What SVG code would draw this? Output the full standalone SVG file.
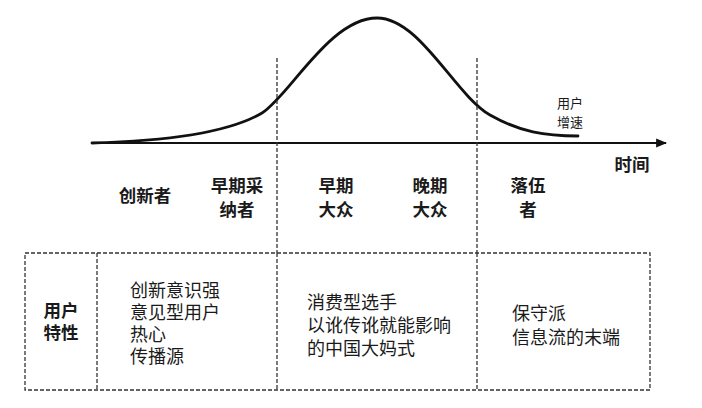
<svg xmlns="http://www.w3.org/2000/svg" width="702" height="408" viewBox="0 0 702 408">
<defs>
<marker id="arr" viewBox="0 0 10 10" refX="9" refY="5" markerWidth="5" markerHeight="5" markerUnits="strokeWidth" orient="auto">
<path d="M0,1 L10,5 L0,9 Z" fill="#111"/>
</marker>
<style>
text{font-family:"Noto Sans CJK SC","Noto Sans",sans-serif;fill:#1a1a1a}
.lb{font-size:17.5px;font-weight:bold}
.bd{font-size:18px}
.sm{font-size:13px}
.dash{stroke:#333;stroke-width:1.3;stroke-dasharray:4 2;fill:none}
</style>
</defs>
<rect width="702" height="408" fill="#fff"/>
<g id="connectors">
<line x1="92" y1="143" x2="666" y2="143" stroke="#111" stroke-width="2.2" marker-end="url(#arr)"/>
<path d="M92,143 C170,141 230,132 262,113 C290,95 330,18 377,18 C420,18 455,95 490,115 C520,132 545,136 578,136" fill="none" stroke="#111" stroke-width="2.8" stroke-linecap="round"/>
<line class="dash" x1="277" y1="58" x2="277" y2="253"/>
<line class="dash" x1="477" y1="58" x2="477" y2="253"/>
</g>
<g id="axis-labels">
<text class="sm" x="557" y="108">用户</text>
<text class="sm" x="557" y="127">增速</text>
<text class="lb" x="632" y="171" text-anchor="middle">时间</text>
</g>
<g id="stage-innovators"><text class="lb" x="145" y="202" text-anchor="middle">创新者</text></g>
<g id="stage-early-adopters"><text class="lb" x="237" y="192" text-anchor="middle">早期采</text><text class="lb" x="237" y="216" text-anchor="middle">纳者</text></g>
<g id="stage-early-majority"><text class="lb" x="336" y="192" text-anchor="middle">早期</text><text class="lb" x="336" y="216" text-anchor="middle">大众</text></g>
<g id="stage-late-majority"><text class="lb" x="430" y="192" text-anchor="middle">晚期</text><text class="lb" x="430" y="216" text-anchor="middle">大众</text></g>
<g id="stage-laggards"><text class="lb" x="528" y="192" text-anchor="middle">落伍</text><text class="lb" x="528" y="216" text-anchor="middle">者</text></g>
<g id="table">
<rect class="dash" x="25" y="253" width="625" height="137"/>
<line class="dash" x1="97" y1="253" x2="97" y2="390"/>
<line class="dash" x1="277" y1="253" x2="277" y2="390"/>
<line class="dash" x1="477" y1="253" x2="477" y2="390"/>
</g>
<g id="cell-header"><text class="lb" x="61" y="317" text-anchor="middle">用户</text><text class="lb" x="61" y="339" text-anchor="middle">特性</text></g>
<g id="cell-innovators">
<text class="bd" x="130" y="297">创新意识强</text>
<text class="bd" x="130" y="319">意见型用户</text>
<text class="bd" x="130" y="341">热心</text>
<text class="bd" x="130" y="363">传播源</text>
</g>
<g id="cell-majority">
<text class="bd" x="307" y="309">消费型选手</text>
<text class="bd" x="307" y="332">以讹传讹就能影响</text>
<text class="bd" x="307" y="355">的中国大妈式</text>
</g>
<g id="cell-laggards">
<text class="bd" x="512" y="320">保守派</text>
<text class="bd" x="512" y="344">信息流的末端</text>
</g>
</svg>
